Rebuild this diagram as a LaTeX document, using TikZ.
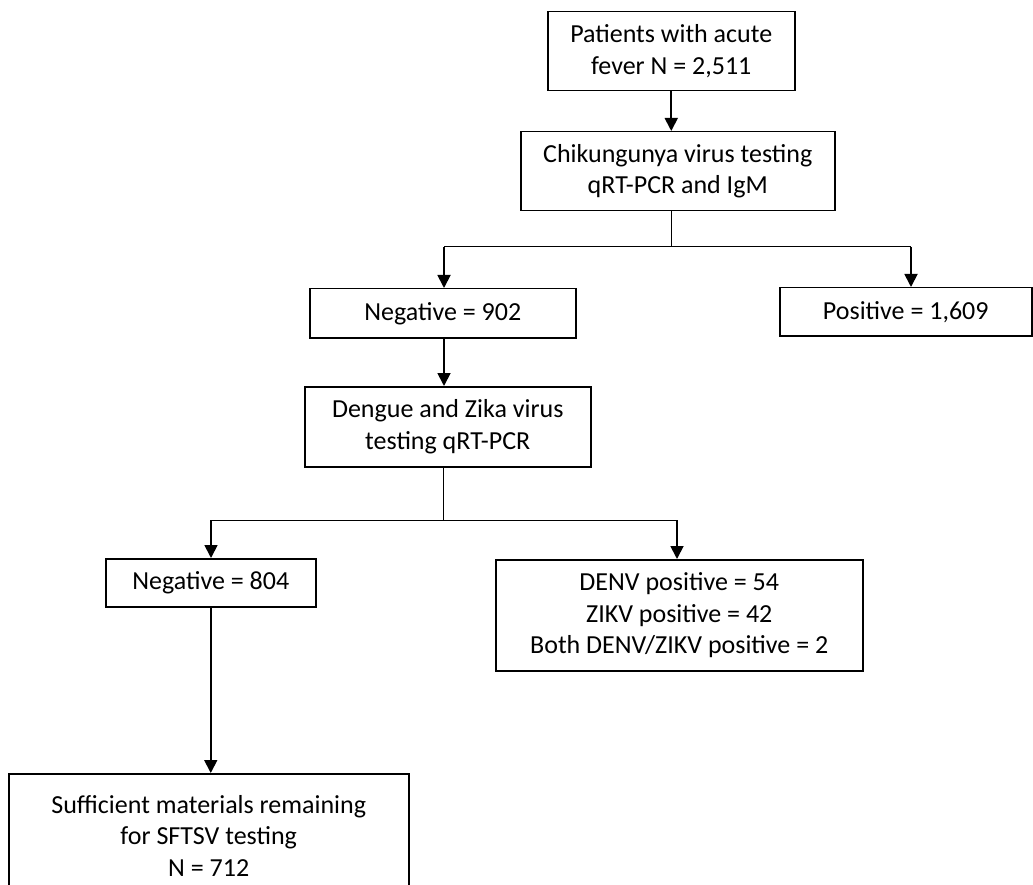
\documentclass[tikz,border=0pt]{standalone}
\usepackage{fontspec}
\setmainfont{Carlito}
\usetikzlibrary{arrows.meta}
\begin{document}
\begin{tikzpicture}[x=1pt,y=-1pt,
  box/.style={draw, line width=1.5pt, align=center, inner sep=0pt, font=\fontsize{26}{31.7}\selectfont, anchor=north west},
  thinline/.style={line width=1pt},
  arr/.style={line width=1.8pt, -{Triangle[width=13pt,length=13pt]}}]
\useasboundingbox (0,0) rectangle (1033,885);
\clip (0,0) rectangle (1033,885);
\fill[white] (0,0) rectangle (1033,885);

\node[box, minimum width=247pt, minimum height=79pt] (b1) at (547,11) {Patients with acute\\fever N = 2,511};
\node[box, minimum width=314pt, minimum height=79pt] (b2) at (520,131) {Chikungunya virus testing\\qRT-PCR and IgM};
\node[box, minimum width=266pt, minimum height=49pt] (b3) at (309,288) {Negative = 902};
\node[box, minimum width=252pt, minimum height=48pt] (b4) at (779,287) {Positive = 1,609};
\node[box, minimum width=286pt, minimum height=80pt] (b5) at (304,386) {Dengue and Zika virus\\testing qRT-PCR};
\node[box, minimum width=210pt, minimum height=48pt] (b6) at (105,558) {Negative = 804};
\node[box, minimum width=367pt, minimum height=111pt] (b7) at (495,559) {DENV positive = 54\\ZIKV positive = 42\\Both DENV/ZIKV positive = 2};
\node[box, minimum width=400pt, minimum height=124pt] (b8) at (8,773) {Sufficient materials remaining\\for SFTSV testing\\N = 712};

\coordinate (j1) at (671,247);
\coordinate (l1) at (444,247);
\coordinate (r1) at (911,247);
\coordinate (j2) at (443,520);
\coordinate (l2) at (211,520);
\coordinate (r2) at (677,520);

\draw[arr] (b1.south) -- (b1.south |- b2.north);
\draw[thinline] (j1 |- b2.south) -- (j1);
\draw[thinline] (l1) -- (r1);
\draw[arr] (l1) -- (l1 |- b3.north);
\draw[arr] (r1) -- (r1 |- b4.north);
\draw[arr] (l1 |- b3.south) -- (l1 |- b5.north);
\draw[thinline] (j2 |- b5.south) -- (j2);
\draw[thinline] (l2) -- (r2);
\draw[arr] (l2) -- (l2 |- b6.north);
\draw[arr] (r2) -- (r2 |- b7.north);
\draw[arr] (b6.south) -- (b6.south |- b8.north);
\end{tikzpicture}
\end{document}
